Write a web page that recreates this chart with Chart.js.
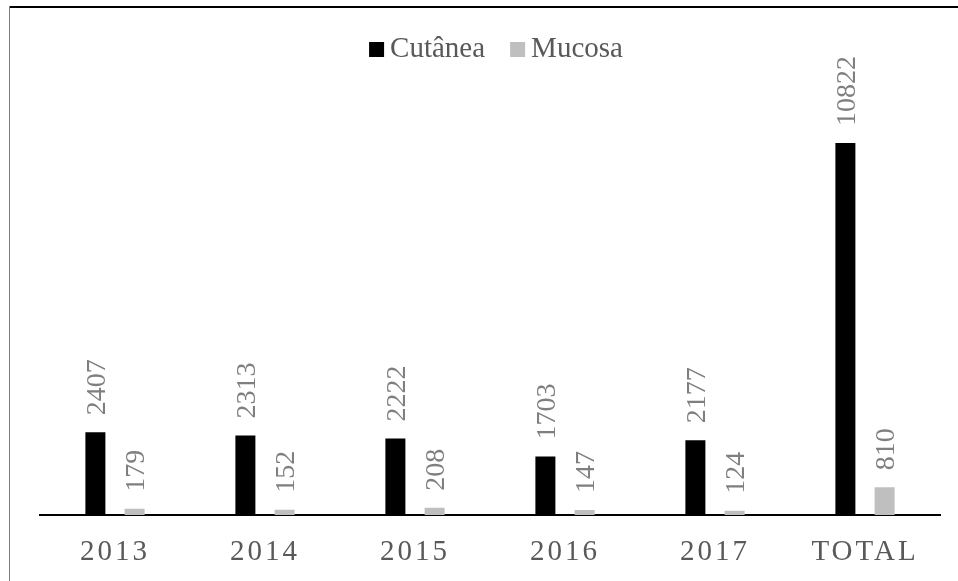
<!DOCTYPE html>
<html>
<head>
<meta charset="utf-8">
<script src="https://cdn.jsdelivr.net/npm/chart.js@4.4.1/dist/chart.umd.min.js"></script>
<style>
  html, body { margin: 0; padding: 0; background: #ffffff; }
  #wrap { width: 958px; height: 581px; position: relative; }
  canvas { display: block; }
  .probe { font-family: 'Liberation Serif'; position: absolute; left: -1000px; top: 0; }
</style>
</head>
<body>
<span class="probe">Cutânea 2013</span>
<div id="wrap"><canvas id="c" width="958" height="581"></canvas></div>
<script>
// ---- data ----
const categories = ["2013", "2014", "2015", "2016", "2017", "TOTAL"];
const seriesNames = ["Cutânea", "Mucosa"];
const cutanea = [2407, 2313, 2222, 1703, 2177, 10822];
const mucosa = [179, 152, 208, 147, 124, 810];
const seriesColors = ["#000000", "#bfbfbf"];

const FONT = "'Liberation Serif', 'Times New Roman', Times, serif";

const framePlugin = {
  id: 'frame',
  beforeDraw(chart) {
    const ctx = chart.ctx;
    ctx.save();
    ctx.fillStyle = '#ffffff';
    ctx.fillRect(0, 0, chart.width, chart.height);
    ctx.fillStyle = '#000000';
    ctx.fillRect(9, 6, chart.width - 9, 2);
    ctx.fillStyle = '#808080';
    ctx.fillRect(9, 6, 1, chart.height - 6);
    ctx.restore();
    ctx.letterSpacing = '3px';
  },
  afterDraw(chart) {
    const ctx = chart.ctx;
    ctx.letterSpacing = '0px';
    ctx.save();
    ctx.font = '29px ' + FONT;
    ctx.textBaseline = 'alphabetic';
    ctx.textAlign = 'left';
    const box = 15, gapText = 6, gapItem = 25;
    const widths = chart.data.datasets.map(d => ctx.measureText(d.label).width);
    let total = 0;
    widths.forEach((w, i) => { total += box + gapText + w + (i < widths.length - 1 ? gapItem : 0); });
    let x = 496 - total / 2;
    const baseY = 57;
    chart.data.datasets.forEach((d, i) => {
      ctx.fillStyle = d.backgroundColor;
      ctx.fillRect(x, baseY - box, box, box);
      x += box + gapText;
      ctx.fillStyle = '#595959';
      ctx.fillText(d.label, x, baseY);
      x += widths[i] + gapItem;
    });
    ctx.restore();
  },
  afterDatasetsDraw(chart) {
    const ctx = chart.ctx;
    ctx.save();
    ctx.letterSpacing = '0px';
    const fs = 28;
    ctx.font = fs + 'px ' + FONT;
    ctx.fillStyle = '#7f7f7f';
    ctx.textAlign = 'left';
    ctx.textBaseline = 'alphabetic';
    chart.data.datasets.forEach((ds, i) => {
      const meta = chart.getDatasetMeta(i);
      meta.data.forEach((bar, j) => {
        const v = ds.data[j];
        ctx.save();
        ctx.translate(bar.x + 0.338 * fs, bar.y - 17);
        ctx.rotate(-Math.PI / 2);
        ctx.fillText(String(v), 0, 0);
        ctx.restore();
      });
    });
    ctx.restore();
    ctx.letterSpacing = '3px';
  }
};

function draw() {
  new Chart(document.getElementById('c'), {
    type: 'bar',
    data: {
      labels: categories,
      datasets: [
        { label: seriesNames[0], data: cutanea, backgroundColor: seriesColors[0] },
        { label: seriesNames[1], data: mucosa, backgroundColor: seriesColors[1] }
      ]
    },
    options: {
      responsive: false,
      devicePixelRatio: 1,
      animation: false,
      layout: { padding: { top: 102.5, left: 40, right: 18, bottom: 0 } },
      datasets: { bar: { barPercentage: 0.51, categoryPercentage: 0.523 } },
      plugins: {
        legend: { display: false },
        tooltip: { enabled: false }
      },
      scales: {
        x: {
          grid: { display: true, drawOnChartArea: false, drawTicks: false },
          border: { display: true, color: '#000000', width: 2 },
          ticks: { color: '#595959', font: { family: FONT, size: 29 }, padding: 20, maxRotation: 0 },
          afterFit(scale) { scale.height = 66; }
        },
        y: { display: false, min: 0, max: 12000 }
      }
    },
    plugins: [framePlugin]
  });
}

if (document.fonts && document.fonts.load) {
  Promise.all([
    document.fonts.load("29px 'Liberation Serif'"),
    document.fonts.load("28px 'Liberation Serif'")
  ]).then(draw, draw);
} else {
  draw();
}
</script>
</body>
</html>
